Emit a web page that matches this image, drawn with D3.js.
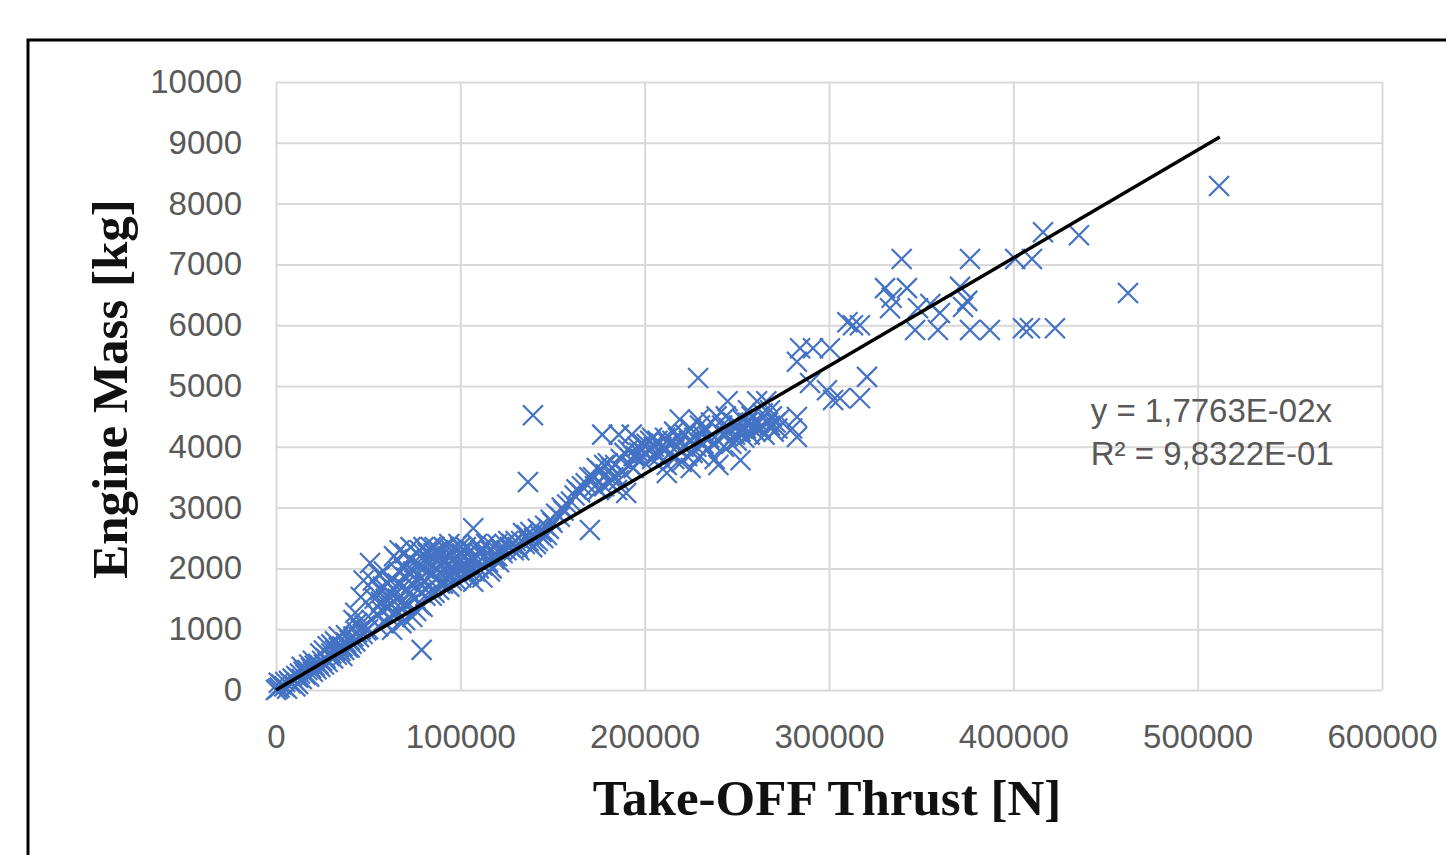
<!DOCTYPE html>
<html>
<head>
<meta charset="utf-8">
<script src="https://cdnjs.cloudflare.com/ajax/libs/d3/7.8.5/d3.min.js"></script>
<style>
  body { margin: 0; background: #fff; }
  svg { display: block; }
</style>
</head>
<body>
<div id="viz"></div>
<script>

// tick values
var xTicks = [0, 100000, 200000, 300000, 400000, 500000, 600000];
var yTicks = [0, 1000, 2000, 3000, 4000, 5000, 6000, 7000, 8000, 9000, 10000];

// regression (excel linear trendline, intercept 0)
var trendSlope = 0.017763;
var trendEndX = 512000;
var trendLabel = ["y = 1,7763E-02x", "R\u00b2 = 9,8322E-01"];

// engines: [take-off thrust N, engine mass kg]
var smallEngines = [
  [0,0],[1000,20],[1500,120],[2000,40],[3000,90],[4500,60],[5000,130],[6000,20],[7000,150],[8000,110],
  [9000,190],[10000,160],[10500,60],[11000,230],[12000,200],[12000,100],[13000,270],[14000,180],[15000,300],[16000,250],
  [17000,330],[18000,220],[19000,360],[20000,300],[21000,400],[22000,340],[23000,430],[24000,380],[25000,480],[26000,420],
  [27000,520],[28000,460],[29000,560],[30000,600],[31000,520],[32000,650],[33000,580],[34000,700],[35000,640],[36000,720],
  [37000,660],[38000,780],[39000,700],[40000,820],[41000,760],[42000,880],[43000,800],[44000,950],[45000,870],[46000,1000],
  [47000,920],[48000,1060],[49000,980],[30000,750],[34000,880],[36000,560],[24000,600],[18000,420],[42000,1150],[43000,1270],
  [46000,1530],[47500,1800],[28000,720],[32000,800],[38000,900],[40000,700],[44000,1100],[14000,380],[20000,480],[26000,650]
];

var midEngines = [
  [50000,1000],[51000,2090],[52000,1150],[53000,1300],[54000,1600],[55000,1250],[56000,1900],[57000,1450],[58000,1700],[59000,1100],
  [60000,1350],[61000,1550],[62000,1800],[63000,990],[64000,2200],[65000,1250],[66000,1500],[67000,2300],[68000,1100],[69000,1700],
  [70000,2250],[71000,1400],[72000,1950],[73000,2350],[74000,1550],[75000,2100],[76000,1300],[77000,1800],[78000,2300],[79000,660],
  [79500,1370],[80000,2000],[81000,1550],[82000,2250],[83000,1700],[84000,2350],[85000,1900],[86000,1600],[87000,2150],[88000,2300],
  [89000,1750],[90000,2050],[91000,2350],[92000,1850],[93000,2200],[94000,1700],[95000,2300],[96000,1950],[97000,2150],[98000,1800],
  [99000,2400],[100000,2000],[101000,2250],[102000,1900],[103000,2350],[104000,2100],[105000,1950],[106000,2300],[107000,2660],[107000,1780],
  [108000,2150],[109000,2400],[110000,2000],[111000,2300],[112000,1850],[113000,2200],[114000,2400],[115000,2100],[116000,2300],[117000,2000],
  [118000,2350],[119000,2200],[120000,2400],[121000,2100],[122000,2300],[123000,2250],[124000,2400],[125000,2300],[126000,2450],[127000,2350],
  [128000,2400],[129000,2300],[130000,2450],
  [62500,1400],[64500,1650],[66500,1950],[68500,1450],[70500,1850],[72500,1600],[74500,1950],[76500,2250],[78500,1600],[80500,1800],
  [82500,1950],[84500,1550],[86500,2000],[88500,1650],[90500,1750],[92500,2050],[94500,2000],[96500,2250],[98500,2100],[100500,1850],
  [102500,2200],[104500,1900],[65500,2150],[69500,2000],[73500,1750],[77500,2050],[81500,2100],[85500,2250],[89500,2200],[93500,1900],
  [97500,1950],[57500,1300],[59500,1500],[61500,1200],[55500,1050],[53500,1500],[52500,1800],[60500,1750],
  [63500,1550],[67500,1350],[71500,1650],[75500,1500],[79000,1850],[83500,2100],[87500,1850],[91500,2150],[95500,1800],[99500,2250],
  [103500,2050],[106500,2150],[110500,2250],[114500,2250],[118500,2150],[70000,1150],[74000,1200],[78000,1400],[58500,1950],[56500,1650],
  [66000,1750],[72000,2150],[80000,2350],[86000,2350],[94000,2400],[100000,2350],[108000,1950],[112000,2050],[116000,1950],[120000,2200],
  [131000,2350],[133000,2450],[134000,2580],[135000,2400],[136000,2550],[136700,3420],[137000,2450],[138000,2600],[139400,4520],[140000,2500],
  [141000,2400],[142000,2650],[143000,2550],[144000,2600],[145000,2500],[146000,2700],[148000,2650],[150000,2750],
  [132000,2300],[139000,2350],[142000,2450],[147000,2550],[149000,2800]
];

var largeEngines = [
  [152000,2900],[154000,2850],[155000,3000],[156000,2950],[158000,3050],[160000,3100],[162000,3200],[163000,3300],[165000,3250],[166000,3350],
  [168000,3400],[170000,3500],[170300,2630],[172000,3500],[173000,3350],[174000,3650],[175000,3300],[176000,3600],[177000,4200],[178000,3700],
  [179000,3550],[180000,3730],[181000,3400],[182000,3650],[183000,3500],[184000,3700],[185000,3290],[186000,4200],[187000,3800],[188000,3600],
  [189000,3900],[190000,3240],[191000,3950],[192000,3700],[193000,4200],[194000,3850],[195000,3850],[196000,4000],[197000,3900],[199000,4050],
  [200000,3900],[201000,4050],[202000,3950],[203000,4100],[204000,3800],[205000,4000],[206000,3900],[207000,4100],[208000,3850],[209000,4000],
  [210000,3950],[211000,4150],[212000,3700],[212000,3570],[213000,4050],[214000,3900],[215000,4100],[216000,3800],[217000,4000],[218000,4150],
  [219000,4450],[220000,3750],[221000,4000],[222000,4200],[223000,3850],[224000,4100],[225000,4300],[225000,3650],[226000,3900],[227000,4150],
  [228000,4000],[229000,5130],[229000,4450],[230000,3850],[231000,4200],[232000,4050],[233000,4300],[234000,3950],[235000,4150],[236000,4400],
  [237000,4050],[238000,3800],[239000,4500],[240000,4100],[240000,3700],[241000,4250],[242000,4350],[243000,4000],[244000,4200],[245000,4750],
  [246000,4300],[247000,4050],[248000,4400],[249000,4200],[250000,4100],[251000,4350],[252000,4250],[252000,3780],[253000,4450],[254000,4150],
  [255000,4300],[256000,4400],[257000,4200],[258000,4500],[259000,4350],[260000,4250],[261000,4750],[262000,4400],[263000,4300],[264000,4550],
  [265000,4200],[266000,4750],[267000,4400],[268000,4350],[269000,4500],[270000,4250],[271000,4400],[272000,4300],[273000,4450],[280000,4300],
  [282600,4490],[282600,4160],[282600,5400],[284300,5620],[289700,5050],[291300,5620],[298900,4930],[300500,5620],[302200,4770],[306000,4800],
  [178000,3350],[186000,3450],[194000,3650],[198000,3800],[204000,4150],[216000,4250],[230000,4350],[244000,4500],[256000,4600],[268000,4600]
];

var heavyEngines = [
  [310000,6050],[313000,6000],[316800,4800],[316800,6000],[320600,5150],[330400,6610],[333100,6280],[334000,6450],[339400,7090],[342300,6610],
  [346700,5920],[348300,6280],[355000,6350],[359100,5920],[360200,6200],[371100,6630],[372700,6300],[375000,6400],[376500,5920],[376500,7090],
  [387300,5920],[401000,7090],[405200,5950],[409000,5950],[410100,7090],[416100,7530],[422600,5950],[435600,7480],[462200,6530],[511600,8290]
];

var engines = smallEngines.concat(midEngines, largeEngines, heavyEngines);

draw();

function draw(){
  var W = 1446, H = 855;
  var margin = {top: 82, right: 64, bottom: 165, left: 276};
  var width = W - margin.left - margin.right,
      height = H - margin.top - margin.bottom;

  var svg = d3.select("#viz").append("svg")
      .attr("width", W)
      .attr("height", H)
      .style("font-family", "'Liberation Sans', Arial, sans-serif");

  svg.append("rect").attr("width", W).attr("height", H).attr("fill", "#fff");

  // outer frame (runs off the page at right and bottom)
  svg.append("rect")
      .attr("x", 28).attr("y", 40)
      .attr("width", 1500).attr("height", 900)
      .attr("fill", "none")
      .attr("stroke", "#000")
      .attr("stroke-width", 3);

  var x = d3.scaleLinear().domain([0, 600000]).range([0, width]);
  var y = d3.scaleLinear().domain([0, 10000]).range([height, 0]);

  var g = svg.append("g")
      .attr("transform", "translate(" + margin.left + "," + margin.top + ")");

  // gridlines
  g.append("g")
      .attr("class", "grid")
      .call(d3.axisLeft(y).tickValues(yTicks).tickSize(-width).tickFormat(""))
      .call(function(s){ s.select(".domain").remove(); });
  g.append("g")
      .attr("class", "grid")
      .attr("transform", "translate(0," + height + ")")
      .call(d3.axisBottom(x).tickValues(xTicks).tickSize(-height).tickFormat(""))
      .call(function(s){ s.select(".domain").remove(); });
  g.selectAll(".grid line")
      .attr("stroke", "#d9d9d9")
      .attr("stroke-width", 2);

  // tick labels
  var yAxis = g.append("g")
      .call(d3.axisLeft(y).tickValues(yTicks).tickSize(0).tickPadding(34).tickFormat(d3.format("d")));
  var xAxis = g.append("g")
      .attr("transform", "translate(0," + height + ")")
      .call(d3.axisBottom(x).tickValues(xTicks).tickSize(0).tickPadding(35).tickFormat(d3.format("d")));
  [xAxis, yAxis].forEach(function(a){
    a.select(".domain").remove();
    a.selectAll("text")
        .attr("fill", "#595959")
        .style("font-family", "'Liberation Sans', Arial, sans-serif")
        .style("font-size", "33px");
  });

  // markers
  var s = 10;
  var marks = g.append("g").attr("class", "marks");
  marks.selectAll("path")
      .data(engines)
      .enter().append("path")
      .attr("d", function(d){
        var cx = x(d[0]), cy = y(d[1]);
        return "M" + (cx - s) + "," + (cy - s) + "L" + (cx + s) + "," + (cy + s) +
               "M" + (cx - s) + "," + (cy + s) + "L" + (cx + s) + "," + (cy - s);
      })
      .attr("fill", "none")
      .attr("stroke", "#4472c4")
      .attr("stroke-width", 2.2);

  // trendline
  g.append("line")
      .attr("x1", x(0)).attr("y1", y(0))
      .attr("x2", x(trendEndX)).attr("y2", y(trendSlope * trendEndX))
      .attr("stroke", "#000")
      .attr("stroke-width", 3.5);

  // equation label
  g.append("text")
      .attr("x", x(442000))
      .attr("y", y(4400))
      .attr("fill", "#595959")
      .style("font-size", "33px")
      .selectAll("tspan")
      .data(trendLabel)
      .enter().append("tspan")
      .attr("x", x(442000))
      .attr("dy", function(d, i){ return i == 0 ? 0 : 43; })
      .text(function(d){ return d; });

  // axis titles
  svg.append("text")
      .attr("x", 827)
      .attr("y", 815)
      .attr("text-anchor", "middle")
      .style("font-family", "'Liberation Serif', 'Times New Roman', serif")
      .style("font-weight", "bold")
      .style("font-size", "51px")
      .attr("fill", "#111")
      .text("Take-OFF Thrust [N]");

  svg.append("text")
      .attr("transform", "translate(127,389) rotate(-90)")
      .attr("text-anchor", "middle")
      .style("font-family", "'Liberation Serif', 'Times New Roman', serif")
      .style("font-weight", "bold")
      .style("font-size", "51px")
      .attr("fill", "#111")
      .text("Engine Mass [kg]");
}
</script>
</body>
</html>
